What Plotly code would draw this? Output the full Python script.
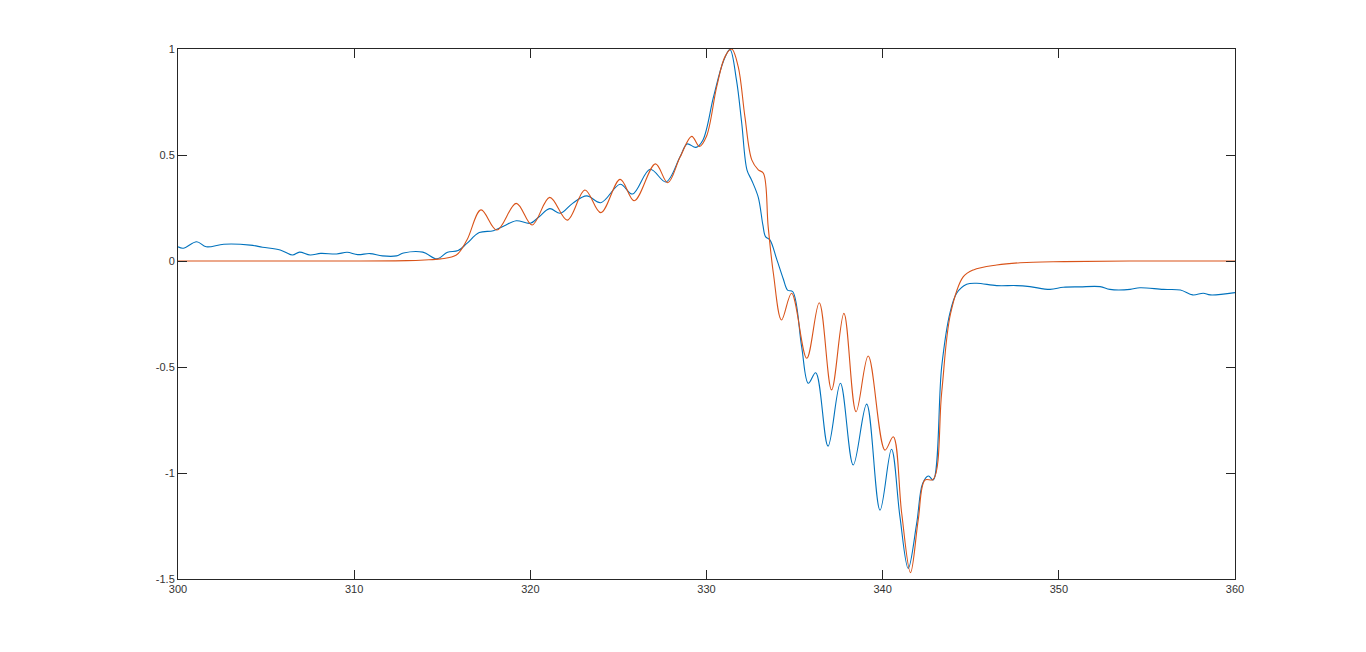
import plotly.graph_objects as go

blue_x = [300.0, 300.3, 301.06, 301.6, 302.6, 304.1, 304.8, 305.8, 306.5, 306.9, 307.5, 308.1, 309.0, 309.6,
          310.2, 310.9, 311.6, 312.4, 312.8, 313.9, 314.7, 315.3, 315.9, 316.4, 317.1, 317.9, 318.5, 319.2,
          320.0, 320.5, 321.1, 321.7, 322.4, 323.2, 324.0, 325.1, 325.8, 326.8, 327.7, 328.5, 328.9, 329.4,
          329.8, 330.4, 330.95, 331.33, 331.7, 332.0, 332.3, 332.57, 332.94, 333.2, 333.35, 333.6, 333.98, 334.36,
          334.6, 334.9, 335.4, 335.78, 336.2, 336.9, 337.6, 338.33, 339.09, 339.85, 340.5, 340.98, 341.45,
          341.93, 342.27, 342.6, 342.87, 343.35, 343.82, 344.2, 344.77, 345.34, 346.47, 347.6, 348.36, 349.5,
          350.25, 351.2, 352.34, 352.9, 354.04, 354.6, 355.93, 356.9, 357.6, 358.2, 358.6, 360.0]
blue_y = [0.067, 0.060, 0.091, 0.067, 0.079, 0.075, 0.065, 0.052, 0.028, 0.042, 0.028, 0.036, 0.033, 0.041,
          0.030, 0.035, 0.024, 0.024, 0.038, 0.042, 0.010, 0.041, 0.049, 0.083, 0.134, 0.143, 0.165, 0.190,
          0.178, 0.209, 0.247, 0.225, 0.272, 0.307, 0.275, 0.362, 0.316, 0.433, 0.373, 0.492, 0.552, 0.536,
          0.571, 0.775, 0.940, 0.998, 0.854, 0.650, 0.429, 0.380, 0.300, 0.170, 0.115, 0.100, 0.010, -0.085,
          -0.137, -0.145, -0.404, -0.577, -0.527, -0.873, -0.577, -0.962, -0.675, -1.175, -0.888, -1.206, -1.45,
          -1.238, -1.049, -1.014, -1.033, -0.499, -0.245, -0.152, -0.110, -0.105, -0.116, -0.116, -0.121, -0.134,
          -0.124, -0.122, -0.121, -0.134, -0.134, -0.126, -0.134, -0.137, -0.160, -0.152, -0.160, -0.149]

red_x = [300.0, 310.0, 313.0, 314.0, 314.9, 315.8, 316.4, 317.2, 318.1, 319.2, 320.1, 321.1, 322.1, 323.1,
         324.0, 325.1, 325.9, 327.1, 327.8, 328.5, 329.16, 329.6, 330.0, 330.58, 331.05, 331.43, 331.8,
         332.18, 332.57, 332.94, 333.23, 333.5, 333.8, 334.26, 334.83, 335.69, 336.4, 337.1, 337.8, 338.49,
         339.18, 340.13, 340.6, 341.08, 341.58, 342.02, 342.4, 342.87, 343.35, 343.85, 344.58, 345.15,
         346.47, 347.8, 350.3, 354.0, 360.0]
red_y = [0.0, 0.0, 0.002, 0.005, 0.010, 0.028, 0.099, 0.241, 0.146, 0.272, 0.170, 0.300, 0.193, 0.335,
         0.228, 0.385, 0.284, 0.458, 0.369, 0.490, 0.588, 0.540, 0.588, 0.822, 0.964, 1.0, 0.917,
         0.681, 0.477, 0.430, 0.414, 0.162, -0.060, -0.278, -0.152, -0.459, -0.197, -0.608, -0.247, -0.711,
         -0.448, -0.892, -0.829, -1.19, -1.47, -1.22, -1.033, -1.030, -0.620, -0.250, -0.074, -0.042,
         -0.019, -0.008, -0.003, 0.0, 0.0]

x_ticks = [300, 310, 320, 330, 340, 350, 360]
y_ticks = [-1.5, -1, -0.5, 0, 0.5, 1]
y_tick_labels = ["-1.5", "-1", "-0.5", "0", "0.5", "1"]

fig = go.Figure()
fig.add_trace(go.Scatter(x=blue_x, y=blue_y, mode="lines",
                         line=dict(color="#0072BD", width=1.1, shape="spline", smoothing=1.0)))
fig.add_trace(go.Scatter(x=red_x, y=red_y, mode="lines",
                         line=dict(color="#D95319", width=1.1, shape="spline", smoothing=1.0)))

axis_common = dict(showgrid=False, zeroline=False, showline=True, linecolor="#262626", linewidth=1,
                   mirror="ticks", ticks="inside", ticklen=9, tickwidth=1, tickcolor="#262626",
                   tickfont=dict(family="Liberation Sans, Arial, sans-serif", size=11, color="#333333"))

fig.update_xaxes(range=[300, 360], tickvals=x_ticks, ticktext=[str(v) for v in x_ticks], **axis_common)
fig.update_yaxes(range=[-1.5, 1], tickvals=y_ticks, ticktext=y_tick_labels, **axis_common)

fig.update_layout(width=1366, height=652, showlegend=False,
                  margin=dict(l=170, r=139, t=41, b=81),
                  paper_bgcolor="white", plot_bgcolor="white")

fig.write_html("out.html")
